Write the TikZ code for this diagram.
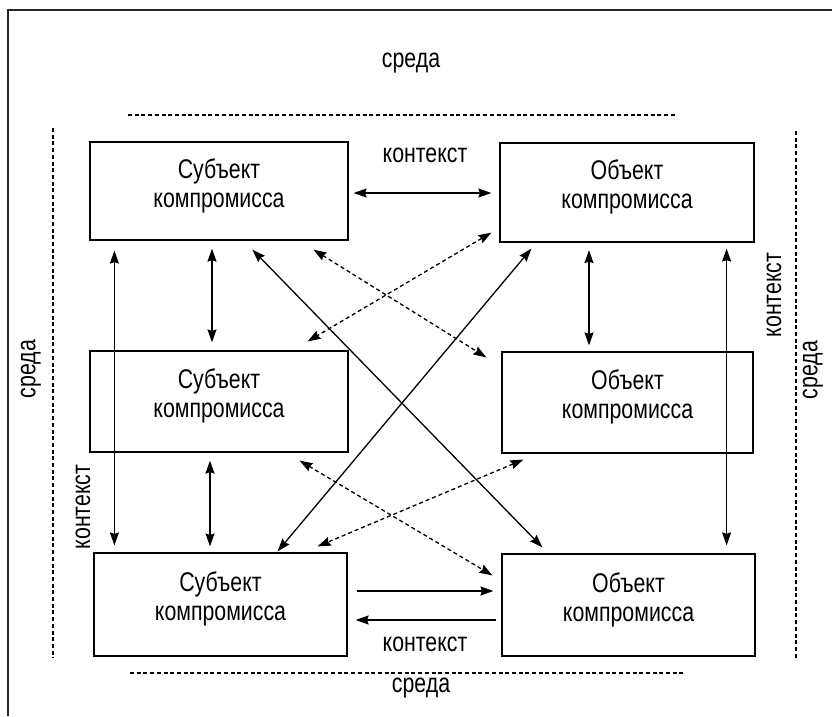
\documentclass[tikz,border=0pt]{standalone}
\usepackage{fontspec}
\setmainfont{Liberation Sans}[FakeStretch=0.79]
\usetikzlibrary{arrows.meta,calc}
\tikzset{
  box/.style={draw, line width=1.2pt, inner sep=0pt},
  lbl/.style={inner sep=0pt, font=\fontsize{27}{31}\selectfont},
  conn/.style={line width=1.3pt, {Stealth[length=13pt,width=9pt,inset=1.5pt]}-{Stealth[length=13pt,width=9pt,inset=1.5pt]}},
  oneway/.style={line width=1.3pt, -{Stealth[length=13pt,width=9pt,inset=1.5pt]}},
  dconn/.style={conn, dash pattern=on 4pt off 3pt},
  border/.style={line width=1.1pt, dash pattern=on 4pt off 2.7pt},
  frame/.style={line width=1.8pt, black!85}
}
\begin{document}
\begin{tikzpicture}[x=1pt,y=-1pt]
\useasboundingbox (0,0) rectangle (832,716);
\fill[white] (0,0) rectangle (832,716);
% partial outer frame
\coordinate (fbl) at (8,716);
\coordinate (ftl) at (8,10);
\coordinate (ftr) at (832,10);
\draw[frame] (fbl) -- (ftl) -- (ftr);

% boxes
\node[box, minimum width=258pt, minimum height=98pt] (s1) at (219,191) {};
\node[box, minimum width=254pt, minimum height=99pt] (o1) at (627,192.5) {};
\node[box, minimum width=258pt, minimum height=101pt] (s2) at (219,401.5) {};
\node[box, minimum width=251pt, minimum height=101pt] (o2) at (627.5,402.5) {};
\node[box, minimum width=253pt, minimum height=103pt] (s3) at (220.5,604.5) {};
\node[box, minimum width=253pt, minimum height=102pt] (o3) at (628.5,605) {};

% box texts
\foreach \b/\w in {s1/Субъект, o1/Объект, s2/Субъект, o2/Объект, s3/Субъект, o3/Объект}{
  \node[lbl, anchor=base] (\b t1) at ($(\b.center)+(0,-13)$) {\w};
  \node[lbl, anchor=base] (\b t2) at ($(\b.center)+(0,16)$) {компромисса};
}

% dashed environment borders
\coordinate (dt1) at (128,115); \coordinate (dt2) at (677,115);
\coordinate (db1) at (130,673); \coordinate (db2) at (683,673);
\coordinate (dl1) at (53,128); \coordinate (dl2) at (53,658);
\coordinate (dr1) at (796,131); \coordinate (dr2) at (796,658);
\draw[border] (dt1) -- (dt2);
\draw[border] (db1) -- (db2);
\draw[border] (dl1) -- (dl2);
\draw[border] (dr1) -- (dr2);

% labels
\node[lbl, anchor=base] (sredaT) at (411,67) {среда};
\node[lbl, anchor=base] (kontT) at (425,162) {контекст};
\node[lbl, anchor=base] (kontB) at (425,651) {контекст};
\node[lbl, anchor=base] (sredaB) at (421,692) {среда};
\node[lbl, rotate=90] (sredaL) at (31,369) {среда};
\node[lbl, rotate=90] (kontL) at (83,507) {контекст};
\node[lbl, rotate=90] (kontR) at (774,295) {контекст};
\node[lbl, rotate=90] (sredaR) at (813,370) {среда};

% connectors
\draw[conn] ($(s1.east)+(5,2)$) -- ($(o1.west)+(-8,0.5)$);
\draw[conn] ($(s1.south)+(-7,8)$) -- ($(s2.north)+(-7,-8)$);
\draw[conn] ($(o1.south)+(-38,7.5)$) -- ($(o2.north)+(-38.5,-6)$);
\draw[conn] ($(s2.south)+(-9,8)$) -- ($(s3.north)+(-10.5,-6)$);
\draw[conn] ($(s1.south west)+(25,10)$) -- ($(s3.north west)+(21,-7)$);
\draw[conn] ($(o1.south east)+(-28,6)$) -- ($(o3.north east)+(-29,-8)$);
\draw[conn] ($(s1.south west)+(163,9)$) -- ($(o3.north west)+(41,-6)$);
\draw[conn] ($(o1.south west)+(32,6)$) -- ($(s3.north east)+(-70,-1)$);
\draw[dconn] ($(s1.south west)+(224,9)$) -- ($(o2.north west)+(-15,6)$);
\draw[dconn] ($(o1.south west)+(-8,-10)$) -- ($(s2.north east)+(-41,-9)$);
\draw[dconn] ($(s2.south east)+(-49,8)$) -- ($(o3.north west)+(-9,22)$);
\draw[dconn] ($(o2.south west)+(22,6)$) -- ($(s3.north east)+(-30,-6)$);
\draw[oneway] ($(s3.east)+(9,-13.5)$) -- ($(o3.west)+(-8,-14)$);
\draw[oneway] ($(o3.west)+(-5,15)$) -- ($(s3.east)+(8,15.5)$);
\end{tikzpicture}
\end{document}
